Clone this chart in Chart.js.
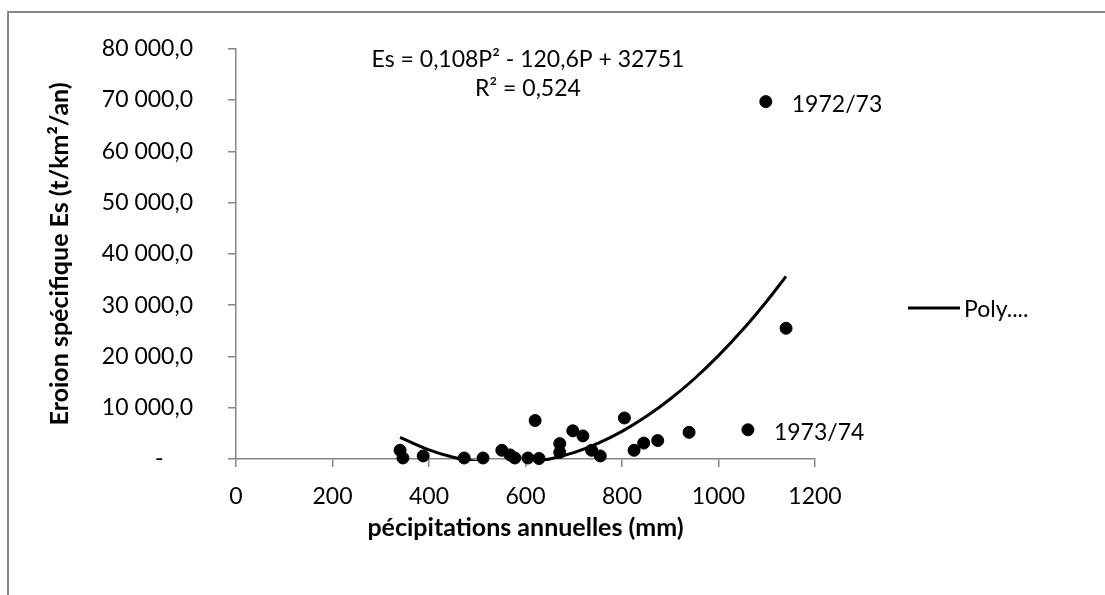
<!DOCTYPE html>
<html><head><meta charset="utf-8">
<script src="https://cdn.jsdelivr.net/npm/chart.js@4.4.0/dist/chart.umd.min.js"></script>
<style>html,body{margin:0;padding:0;background:#fff;overflow:hidden}#wrap{width:1105px;height:595px;position:relative}</style>
</head><body><div id="wrap"><canvas id="c" width="1105" height="595"></canvas></div>
<script>
// Observed data: annual precipitation (mm) and specific erosion (t/km²/an)
const precipitation = [340, 346, 388, 473, 512, 551, 568, 578, 605, 628, 620, 671, 671, 698, 719, 737, 755, 805, 825, 845, 874, 939, 1061, 1098, 1140];
const erosion       = [1700, 200, 600, 200, 200, 1700, 800, 200, 200, 100, 7500, 3000, 1300, 5500, 4500, 1700, 600, 8000, 1700, 3100, 3600, 5200, 5700, 69700, 25500];
const pointLabels   = ['', '', '', '', '', '', '', '', '', '', '', '', '', '', '', '', '', '', '', '', '', '', '1973/74', '1972/73', ''];
// Polynomial trendline
const trendP  = [340, 400, 450, 500, 550, 600, 650, 700, 750, 800, 850, 900, 950, 1000, 1050, 1100, 1140];
const trendEs = [4232, 1791, 351, -549, -909, -729, -9, 1251, 3051, 5391, 8271, 11691, 15651, 20151, 25191, 30771, 35624];
const trendLabel = 'Poly....';
const equationLines = ['Es = 0,108P² - 120,6P + 32751', 'R² = 0,524'];
const xTicks = [0, 200, 400, 600, 800, 1000, 1200];
const yTicks = [0, 10000, 20000, 30000, 40000, 50000, 60000, 70000, 80000];
const xTitle = 'pécipitations annuelles (mm)';
const yTitle = 'Eroion spécifique Es (t/km²/an)';

const FONT = 'Lato';
const AXIS = '#868686';

const scatterPts = precipitation.map((p, i) => ({x: p, y: erosion[i]}));
const trendPts = trendP.map((p, i) => ({x: p, y: trendEs[i]}));

function fmtY(v) {
  if (v === 0) return '-     ';
  return String(v).replace(/\B(?=(\d{3})+(?!\d))/g, ' ') + ',0';
}

const decor = {
  id: 'decor',
  beforeDraw(chart) {
    const c = chart.ctx;
    c.save();
    c.fillStyle = '#fff';
    c.fillRect(0, 0, chart.width, chart.height);
    c.strokeStyle = AXIS;
    c.lineWidth = 2;
    c.strokeRect(8, 12, 2000, 2000);
    c.restore();
  },
  afterDraw(chart) {
    const c = chart.ctx;
    const xs = chart.scales.x, ys = chart.scales.y;
    c.save();
    c.fillStyle = '#000';
    c.font = '23px ' + FONT;
    c.textAlign = 'center';
    c.textBaseline = 'middle';
    c.fillText(equationLines[0], 528, 60);
    c.fillText(equationLines[1], 528, 89);
    c.textAlign = 'left';
    pointLabels.forEach((t, i) => {
      if (!t) return;
      c.fillText(t, xs.getPixelForValue(precipitation[i]) + 26, ys.getPixelForValue(erosion[i]) + 3);
    });
    // legend
    c.strokeStyle = '#000';
    c.lineWidth = 3;
    c.beginPath();
    c.moveTo(908, 308);
    c.lineTo(960, 308);
    c.stroke();
    c.fillText(trendLabel, 964, 310);
    c.restore();
  }
};

new Chart(document.getElementById('c'), {
  type: 'scatter',
  data: {
    datasets: [
      {label: trendLabel, type: 'line', data: trendPts, borderColor: '#000', borderWidth: 3,
       pointRadius: 0, fill: false, tension: 0.4, order: 0, clip: 2},
      {label: 'Es', data: scatterPts, backgroundColor: '#000', borderColor: '#000',
       pointRadius: 6, pointHoverRadius: 6, order: 1, clip: false}
    ]
  },
  options: {
    responsive: false, animation: false, devicePixelRatio: 1,
    layout: {padding: {left: 0, right: 290, top: 42, bottom: 0}},
    plugins: {legend: {display: false}, tooltip: {enabled: false}},
    scales: {
      x: {
        type: 'linear', min: 0, max: 1200,
        afterBuildTicks: s => { s.ticks = xTicks.map(v => ({value: v})); },
        afterFit: s => { s.height = 136; },
        ticks: {color: '#000', font: {family: FONT, size: 23}, padding: 16, maxRotation: 0, callback: v => String(v)},
        grid: {drawOnChartArea: false, drawTicks: true, tickLength: 8, color: AXIS, lineWidth: 1.5},
        border: {display: true, color: AXIS, width: 1.5},
        title: {display: true, text: xTitle, color: '#000', font: {family: FONT, size: 25, weight: 'bold'}, padding: {top: 0, bottom: 52}}
      },
      y: {
        type: 'linear', min: 0, max: 80000,
        afterBuildTicks: s => { s.ticks = yTicks.map(v => ({value: v})); },
        afterFit: s => { s.width = 236; },
        ticks: {color: '#000', font: {family: FONT, size: 23}, padding: 35, callback: v => fmtY(v)},
        grid: {drawOnChartArea: false, drawTicks: true, tickLength: 8, color: AXIS, lineWidth: 1.5},
        border: {display: true, color: AXIS, width: 1.5},
        title: {display: true, text: yTitle, color: '#000', font: {family: FONT, size: 25, weight: 'bold'}, padding: {top: 45, bottom: 0}}
      }
    }
  },
  plugins: [decor]
});
</script></body></html>
